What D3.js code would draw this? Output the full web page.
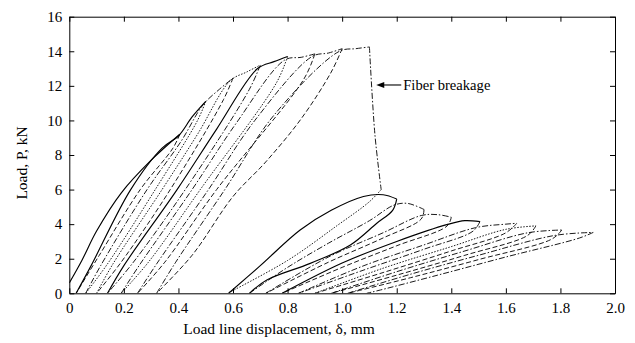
<!DOCTYPE html>
<html><head><meta charset="utf-8">
<script src="https://cdn.jsdelivr.net/npm/d3@7"></script>
<style>body{margin:0;background:#fff}svg{display:block}</style>
</head><body><svg id="c" width="635" height="343"></svg>
<script>
// ---- axis data ----
const xTicks = [0, 0.2, 0.4, 0.6, 0.8, 1.0, 1.2, 1.4, 1.6, 1.8, 2.0];
const yTicks = [0, 2, 4, 6, 8, 10, 12, 14, 16];
const xLabel = "Load line displacement, \u03b4, mm";
const yLabel = "Load, P, kN";
const noteText = "Fiber breakage";
const notePoint = [1.125, 12.05];

// ---- pre-breakage cycles: [displacement mm, load kN] ----
const load0   = [[0,0.6],[0.046,1.9],[0.1,3.6],[0.19,5.8],[0.3,7.7],[0.405,9.2]];
const unload1 = [[0.405,9.2],[0.38,8.4],[0.26,6.0],[0.11,2.2],[0.025,0]];
const reload2 = [[0.025,0],[0.08,1.6],[0.225,6.0],[0.34,8.4],[0.40,9.1],[0.45,10.2],[0.50,11.1]];
const unload2 = [[0.50,11.1],[0.47,10.0],[0.315,6.0],[0.14,1.7],[0.06,0]];
const reload3 = [[0.06,0],[0.115,1.6],[0.285,6.0],[0.41,8.8],[0.49,10.9],[0.55,11.8],[0.60,12.45]];
const unload3 = [[0.60,12.45],[0.565,11.2],[0.37,6.0],[0.19,1.8],[0.10,0]];
const reload4 = [[0.10,0],[0.16,1.7],[0.34,6.0],[0.47,9.2],[0.59,12.3],[0.65,12.8],[0.70,13.2]];
const unload4 = [[0.70,13.2],[0.66,11.8],[0.425,6.0],[0.235,1.8],[0.14,0]];
const reload5 = [[0.14,0],[0.20,1.6],[0.395,6.0],[0.54,9.5],[0.69,13.0],[0.75,13.4],[0.80,13.7]];
const unload5 = [[0.80,13.7],[0.76,12.2],[0.48,6.0],[0.29,1.8],[0.19,0]];
const reload6 = [[0.19,0],[0.26,1.7],[0.45,6.0],[0.61,9.8],[0.79,13.5],[0.85,13.65],[0.90,13.85]];
const unload6 = [[0.90,13.85],[0.86,12.4],[0.54,6.0],[0.35,1.8],[0.25,0]];
const reload7 = [[0.25,0],[0.32,1.7],[0.51,6.0],[0.68,10.0],[0.89,13.7],[0.95,13.9],[1.00,14.15]];
const unload7 = [[1.00,14.15],[0.96,12.8],[0.85,10.1],[0.72,7.6],[0.60,5.6],[0.45,2.2],[0.32,0]];
const reload8 = [[0.32,0],[0.39,1.8],[0.57,6.0],[0.75,10.3],[0.99,14.0],[1.05,14.15],[1.10,14.25]];
const breakage = [[1.10,14.25],[1.12,9.2],[1.143,6.0]];

// ---- post-breakage cycles ----
const unloadA = [[1.143,6.0],[1.10,5.3],[0.98,3.9],[0.80,1.9],[0.58,0]];
const reloadB = [[0.584,0],[0.70,1.6],[0.846,3.66],[0.96,4.8],[1.078,5.6],[1.15,5.7],[1.2,5.45]];
const unloadB = [[1.2,5.45],[1.185,4.8],[1.127,4.05],[1.03,2.79],[0.883,1.73],[0.724,0.77],[0.66,0]];
const reloadC = [[0.66,0],[0.80,1.5],[0.95,2.9],[1.10,4.2],[1.19,5.1],[1.24,5.2],[1.3,4.85]];
const unloadC = [[1.3,4.85],[1.29,4.3],[1.15,3.2],[0.95,1.8],[0.72,0]];
const reloadD = [[0.72,0],[0.95,2.1],[1.15,3.5],[1.29,4.5],[1.35,4.55],[1.40,4.4]];
const unloadD = [[1.40,4.4],[1.385,3.9],[1.2,2.75],[1.0,1.5],[0.78,0]];
const reloadE = [[0.78,0],[1.0,1.75],[1.2,3.0],[1.39,4.0],[1.45,4.2],[1.505,4.15]];
const unloadE = [[1.505,4.15],[1.48,3.6],[1.3,2.55],[1.08,1.35],[0.84,0]];
const reloadF = [[0.84,0],[1.08,1.6],[1.3,2.8],[1.49,3.8],[1.6,4.0],[1.64,4.05]];
const unloadF = [[1.64,4.05],[1.60,3.5],[1.4,2.45],[1.15,1.2],[0.90,0]];
const reloadG = [[0.90,0],[1.15,1.45],[1.4,2.7],[1.6,3.7],[1.71,3.9]];
const unloadG = [[1.71,3.9],[1.68,3.35],[1.45,2.2],[1.2,1.05],[0.96,0]];
const reloadH = [[0.96,0],[1.2,1.25],[1.45,2.45],[1.68,3.5],[1.805,3.66]];
const unloadH = [[1.805,3.66],[1.77,3.15],[1.5,1.95],[1.25,0.9],[1.02,0]];
const reloadI = [[1.02,0],[1.25,1.1],[1.5,2.2],[1.78,3.35],[1.92,3.52]];
const unloadI = [[1.92,3.52],[1.87,3.2],[1.6,2.1],[1.35,1.05],[1.14,0.19],[1.09,0]];

// ---- drawing ----
const svg = d3.select("#c");
const W = 635, H = 343;
const m = {l: 69.3, r: W - 615, t: 16.7, b: H - 293.3};
const x = d3.scaleLinear().domain([0, 2]).range([m.l, W - m.r]);
const y = d3.scaleLinear().domain([0, 16]).range([H - m.b, m.t]);
const font = "'Liberation Serif','Times New Roman',serif";

const styles = {
  solid:   {w: 1.15, dash: null},
  dashed:  {w: 0.9, dash: "5,2.5"},
  dashdot: {w: 0.9, dash: "6,2,1.5,2"},
  dotted:  {w: 0.9, dash: "1.5,1.5"}
};
const curves = [
  [load0,"solid"],[unload1,"dashed"],[reload2,"solid"],[unload2,"dotted"],
  [reload3,"dashdot"],[unload3,"dashed"],[reload4,"dotted"],[unload4,"dashdot"],
  [reload5,"solid"],[unload5,"dotted"],[reload6,"dashdot"],[unload6,"dashed"],
  [reload7,"dashdot"],[unload7,"dashed"],[reload8,"dashdot"],[breakage,"dashdot"],
  [unloadA,"dotted"],[reloadB,"solid"],[unloadB,"solid"],[reloadC,"dashdot"],
  [unloadC,"dashed"],[reloadD,"dashdot"],[unloadD,"dashed"],[reloadE,"solid"],
  [unloadE,"dashdot"],[reloadF,"dashdot"],[unloadF,"dashed"],[reloadG,"dotted"],
  [unloadG,"dashed"],[reloadH,"dashdot"],[unloadH,"dashed"],[reloadI,"dashdot"],
  [unloadI,"dashdot"]
];

svg.append("clipPath").attr("id","clip").append("rect")
  .attr("x", m.l).attr("y", m.t).attr("width", W - m.l - m.r).attr("height", H - m.t - m.b);

const line = d3.line().x(d => x(d[0])).y(d => y(d[1])).curve(d3.curveCatmullRom.alpha(0.5));
const g = svg.append("g").attr("clip-path","url(#clip)");
curves.forEach(([data, s]) => {
  g.append("path").attr("d", line(data)).attr("fill","none")
    .attr("stroke","#000").attr("stroke-width", styles[s].w)
    .attr("stroke-dasharray", styles[s].dash).attr("stroke-linejoin","round");
});

// axes
function styleAxis(sel, showLabels) {
  sel.selectAll("text").attr("font-family", font).attr("font-size", 15).attr("fill","#000");
  sel.select(".domain").attr("stroke","#000");
  sel.selectAll(".tick line").attr("stroke","#000");
  if (!showLabels) sel.selectAll("text").remove();
}
const fmtX = d => d === 0 ? "0" : d3.format(".1f")(d);
styleAxis(svg.append("g").attr("transform",`translate(0,${y(0)})`)
  .call(d3.axisBottom(x).tickValues(xTicks).tickFormat(fmtX).tickSizeInner(-5).tickSizeOuter(0).tickPadding(9)), true);
styleAxis(svg.append("g").attr("transform",`translate(0,${y(16)})`)
  .call(d3.axisTop(x).tickValues(xTicks).tickSizeInner(-5).tickSizeOuter(0)), false);
styleAxis(svg.append("g").attr("transform",`translate(${x(0)},0)`)
  .call(d3.axisLeft(y).tickValues(yTicks).tickFormat(d3.format("d")).tickSizeInner(-5).tickSizeOuter(0).tickPadding(7)), true);
styleAxis(svg.append("g").attr("transform",`translate(${x(2)},0)`)
  .call(d3.axisRight(y).tickValues(yTicks).tickSizeInner(-5).tickSizeOuter(0)), false);

// titles
svg.append("text").attr("x", 279).attr("y", 334).attr("text-anchor","middle")
  .attr("font-family", font).attr("font-size", 15.5).text(xLabel);
svg.append("text").attr("transform", `translate(27,${163}) rotate(-90)`).attr("text-anchor","middle")
  .attr("font-family", font).attr("font-size", 15.5).text(yLabel);

// annotation
const ax = x(notePoint[0]), ay = y(notePoint[1]);
svg.append("line").attr("x1", ax + 6).attr("y1", ay).attr("x2", ax + 25).attr("y2", ay)
  .attr("stroke","#000").attr("stroke-width",1.1);
svg.append("path").attr("d", `M${ax},${ay} L${ax+8},${ay-3} L${ax+8},${ay+3} Z`).attr("fill","#000");
svg.append("text").attr("x", ax + 27).attr("y", ay + 5).attr("font-family", font)
  .attr("font-size", 14.6).text(noteText);
</script></body></html>
